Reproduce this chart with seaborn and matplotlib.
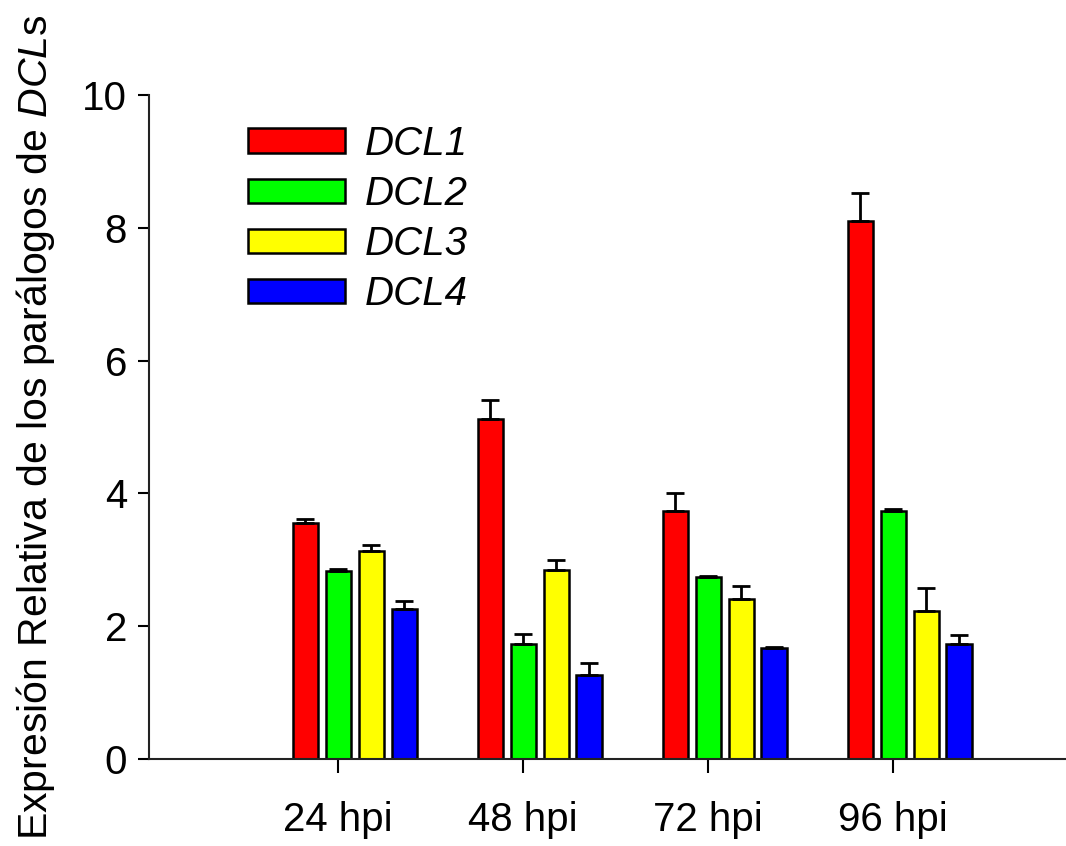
import numpy as np
import pandas as pd
import matplotlib
matplotlib.use("Agg")
import matplotlib.pyplot as plt
import seaborn as sns

times = ["24 hpi", "48 hpi", "72 hpi", "96 hpi"]
genes = ["DCL1", "DCL2", "DCL3", "DCL4"]

dcl1 = [3.56, 5.12, 3.73, 8.10]
dcl2 = [2.83, 1.73, 2.74, 3.74]
dcl3 = [3.14, 2.85, 2.41, 2.23]
dcl4 = [2.26, 1.26, 1.67, 1.73]

dcl1_err = [0.06, 0.29, 0.27, 0.43]
dcl2_err = [0.03, 0.15, 0.02, 0.02]
dcl3_err = [0.09, 0.15, 0.20, 0.35]
dcl4_err = [0.12, 0.18, 0.02, 0.14]

colors = ["#ff0000", "#00ff00", "#ffff00", "#0000ff"]

values = [dcl1, dcl2, dcl3, dcl4]
errors = [dcl1_err, dcl2_err, dcl3_err, dcl4_err]

rows = []
for g, vals in zip(genes, values):
    for t, v in zip(times, vals):
        rows.append({"Tiempo": t, "Gen": g, "Expr": v})
df = pd.DataFrame(rows)

sns.set_style("ticks")
plt.rcParams["font.family"] = ["Liberation Sans", "DejaVu Sans"]
plt.rcParams["mathtext.fontset"] = "custom"
plt.rcParams["mathtext.rm"] = "Liberation Sans"
plt.rcParams["mathtext.it"] = "Liberation Sans:italic"
plt.rcParams["text.color"] = "black"
plt.rcParams["axes.labelcolor"] = "black"
plt.rcParams["xtick.color"] = "black"
plt.rcParams["ytick.color"] = "black"

fig = plt.figure(figsize=(10.66, 8.46), dpi=100)
ax = fig.add_axes([0.14, 0.1028, 0.859, 0.785])

sns.barplot(data=df, x="Tiempo", y="Expr", hue="Gen", order=times,
            hue_order=genes, palette=colors, width=0.713, gap=0.24,
            edgecolor="black", linewidth=1.8, errorbar=None, saturation=1,
            ax=ax)

# upper-only error bars on each bar
for cont, err in zip(ax.containers, errors):
    xs = [p.get_x() + p.get_width() / 2 for p in cont]
    hs = [p.get_height() for p in cont]
    ax.errorbar(xs, hs, yerr=[np.zeros(len(err)), err], fmt="none",
                ecolor="black", elinewidth=2, capsize=6.5, capthick=2,
                zorder=1)

ax.set_ylim(0, 10)
ax.set_yticks([0, 2, 4, 6, 8, 10])
ax.set_xlim(-1.11, 3.84)
ax.set_xticks(np.arange(len(times)) - 0.089)
ax.set_xticklabels(times)

ax.set_xlabel("")
ax.set_ylabel("Expresión Relativa de los parálogos de $\\mathit{DCL}$s",
              fontsize=29.5, labelpad=18)
ax.tick_params(axis="y", labelsize=29, length=8, width=1.5, pad=8)
ax.tick_params(axis="x", labelsize=29, length=10, width=1.5, pad=20)

sns.despine(ax=ax)
for s in ["left", "bottom"]:
    ax.spines[s].set_linewidth(1.5)
    ax.spines[s].set_color("#222222")

handles, labels = ax.get_legend_handles_labels()
leg = ax.legend(handles, labels, loc="upper left",
                bbox_to_anchor=(0.108, 0.955), frameon=False,
                prop={"style": "italic", "size": 29},
                handlelength=2.4, handleheight=0.55, labelspacing=0.3,
                handletextpad=0.5, borderpad=0, borderaxespad=0)

fig.savefig("out.png", dpi=100)
